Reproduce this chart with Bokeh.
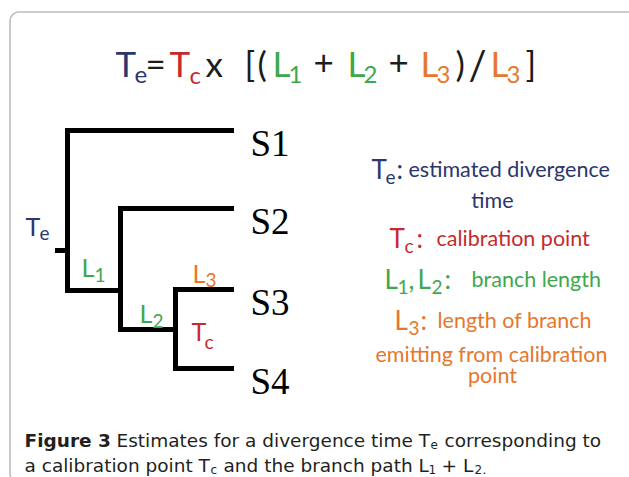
from bokeh.plotting import figure
from bokeh.models import ColumnDataSource, Range1d, BoxAnnotation
from bokeh.core.properties import value
from bokeh.embed import file_html
from bokeh.resources import INLINE

NAVY = "#2a366c"
RED = "#c62a2d"
GREEN = "#40a74b"
ORANGE = "#e6772c"
BLACK = "#1c1c1c"
CAPC = "#231f20"

# ---------------- data ----------------
# formula  Te = Tc x [(L1 + L2 + L3)/L3]
formula_tokens = ["T", "e", "=", "T", "c", "x", "[", "(", "L", "1", "+", "L", "2", "+", "L", "3", ")", "/", "L", "3", "]"]
formula_colors = [NAVY, NAVY, BLACK, RED, RED, BLACK, BLACK, BLACK, GREEN, GREEN, BLACK, GREEN, GREEN, BLACK,
                  ORANGE, ORANGE, BLACK, BLACK, ORANGE, ORANGE, BLACK]
formula_is_sub = [0, 1, 0, 0, 1, 0, 0, 0, 0, 1, 0, 0, 1, 0, 0, 1, 0, 0, 0, 1, 0]

# tree: leaves and internal nodes
leaf_names = ["S1", "S2", "S3", "S4"]
leaf_y = [130, 208, 289, 368]
tip_x = 231
node_names = ["root", "n2", "n3"]
node_x = [67, 120, 175]
node_attach_y = [250, 290, 329]
node_children = [["S1", "n2"], ["S2", "n3"], ["S3", "S4"]]

# branch labels on the tree (main letter, subscript, colour)
branch_labels = [("T", "e", NAVY), ("L", "1", GREEN), ("L", "3", ORANGE), ("L", "2", GREEN), ("T", "c", RED)]

# legend descriptions
legend_te_desc = ["estimated divergence", "time"]
legend_tc_desc = ["calibration point"]
legend_l12_desc = ["branch length"]
legend_l3_desc = ["length of branch", "emitting from calibration", "point"]

caption_bold = "Figure 3"
caption_l1 = ["Estimates for a divergence time T", "e", "corresponding to"]
caption_l2 = ["a calibration point T", "c", "and the branch path L", "1", "+ L", "2", "."]

# ---------------- figure ----------------
W, H = 629, 477
p = figure(width=W, height=H, output_backend="svg", toolbar_location=None,
           x_range=Range1d(0, W), y_range=Range1d(H, 0),
           min_border=0, background_fill_color="white", border_fill_color="white")
p.axis.visible = False
p.grid.visible = False
p.outline_line_color = None

p.add_layout(BoxAnnotation(left=9.5, right=700, top=11.5, bottom=482, fill_color=None,
                           line_color="#222222", line_width=1.6, border_radius=9))

rows = dict(x=[], y=[], t=[], c=[], s=[], st=[], f=[], a=[])


def txt(x, y, t, c, s, f="Lato", st="normal", a="left"):
    rows["x"].append(x); rows["y"].append(y); rows["t"].append(t); rows["c"].append(c)
    rows["s"].append(f"{s}px"); rows["st"].append(st); rows["f"].append(f); rows["a"].append(a)


# formula layout
formula_x = [115, 134, 145, 169, 189, 205, 244, 257, 272, 288, 313, 347, 363, 388, 420, 436, 455, 468, 490, 506, 525]
for tok, col, sub, x in zip(formula_tokens, formula_colors, formula_is_sub, formula_x):
    if sub:
        txt(x, 74, tok, col, 24)
    elif tok == "/":
        txt(x, 64, tok, col, 40)
    else:
        txt(x, 62, tok, col, 35)

# tree branches
ypos = dict(zip(leaf_names, leaf_y))
xpos = {n: tip_x for n in leaf_names}
for n, x, y in zip(node_names, node_x, node_attach_y):
    xpos[n] = x
    if n != "root":
        ypos[n] = y
x0, y0, x1, y1 = [], [], [], []
for n, x, y, ch in zip(node_names, node_x, node_attach_y, node_children):
    cys = [ypos[c] for c in ch]
    x0.append(x); y0.append(min(cys)); x1.append(x); y1.append(max(cys))
    for c in ch:
        x0.append(x); y0.append(ypos[c]); x1.append(xpos[c]); y1.append(ypos[c])
x0.append(node_x[0] - 10); y0.append(node_attach_y[0]); x1.append(node_x[0]); y1.append(node_attach_y[0])
p.segment(x0=x0, y0=y0, x1=x1, y1=y1, line_color="black", line_width=5, line_cap="square")

# leaf labels
for name, y in zip(leaf_names, leaf_y):
    txt(250, y + 13, name, "black", 37, f="Liberation Serif")

# branch labels
bl_pos = [(25, 225, 39, 232), (81, 266, 94, 274), (192, 272, 205, 279), (139, 312, 152, 320), (191, 330, 204, 341)]
for (m, sb, col), (mx, my, sx, sy) in zip(branch_labels, bl_pos):
    txt(mx, my, m, col, 25)
    txt(sx, sy, sb, col, 19)

# legend
BIG, SUB, DESC = 26, 19, 21.5
txt(371, 168, "T", NAVY, BIG); txt(385, 176, "e", NAVY, SUB); txt(396, 168, ":", NAVY, BIG)
txt(408, 168, legend_te_desc[0], NAVY, DESC)
txt(492, 199, legend_te_desc[1], NAVY, DESC, a="center")

txt(389, 237, "T", RED, BIG); txt(404, 245, "c", RED, SUB); txt(416, 237, ":", RED, BIG)
txt(436, 237, legend_tc_desc[0], RED, DESC)

txt(384, 278, "L", GREEN, BIG); txt(397, 286, "1", GREEN, SUB); txt(408, 278, ",", GREEN, BIG)
txt(417, 278, "L", GREEN, BIG); txt(431, 286, "2", GREEN, SUB); txt(444, 278, ":", GREEN, BIG)
txt(471, 278, legend_l12_desc[0], GREEN, DESC)

txt(394, 319, "L", ORANGE, BIG); txt(408, 327, "3", ORANGE, SUB); txt(420, 319, ":", ORANGE, BIG)
txt(437, 319, legend_l3_desc[0], ORANGE, DESC)
txt(491, 353, legend_l3_desc[1], ORANGE, DESC, a="center")
txt(492, 374, legend_l3_desc[2], ORANGE, DESC, a="center")

# caption
CF = "DejaVu Sans"
CS, CSUB = 18.5, 12
txt(24, 440, caption_bold, CAPC, CS, f=CF, st="bold")
txt(116, 440, caption_l1[0], CAPC, CS, f=CF)
txt(430, 444, caption_l1[1], CAPC, CSUB, f=CF)
txt(444, 440, caption_l1[2], CAPC, CS, f=CF)
txt(24, 465, caption_l2[0], CAPC, CS, f=CF)
txt(210, 469, caption_l2[1], CAPC, CSUB, f=CF)
txt(223, 465, caption_l2[2], CAPC, CS, f=CF)
txt(428, 469, caption_l2[3], CAPC, CSUB, f=CF)
txt(441, 465, caption_l2[4], CAPC, CS, f=CF)
txt(474, 469, caption_l2[5], CAPC, CSUB, f=CF)
txt(482, 469, caption_l2[6], CAPC, CSUB, f=CF)

for f in sorted(set(rows["f"])):
    for a in ["left", "center", "right"]:
        idx = [i for i in range(len(rows["t"])) if rows["f"][i] == f and rows["a"][i] == a]
        if not idx:
            continue
        src = ColumnDataSource({k: [rows[k][i] for i in idx] for k in ["x", "y", "t", "c", "s", "st"]})
        p.text(x="x", y="y", text="t", source=src, text_color="c", text_font_size="s",
               text_font_style="st", text_font=value(f), text_align=a, text_baseline="alphabetic")

open("out.html", "w").write(file_html(p, INLINE))
